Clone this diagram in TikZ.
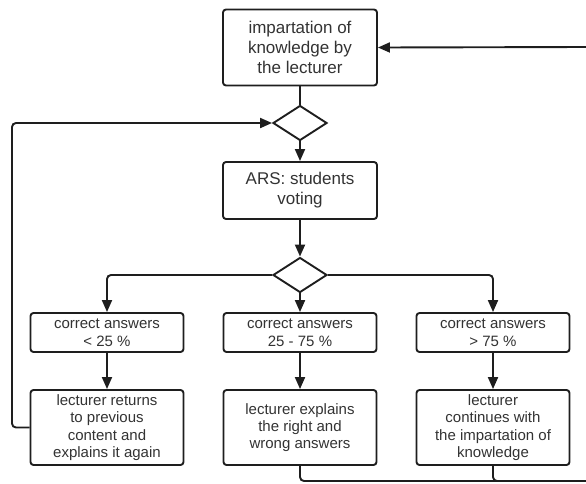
\documentclass[tikz,border=0pt]{standalone}
\usepackage{fontspec}
\setmainfont{Liberation Sans}
\usetikzlibrary{arrows.meta,shapes.geometric}
\definecolor{ln}{HTML}{1E1E1E}
\definecolor{tx}{HTML}{333333}
\tikzset{
  box/.style={draw=ln, line width=1.9pt, rounded corners=3pt, align=center, inner sep=0pt, text=tx, fill=white},
  bigbox/.style={box, minimum width=154pt, minimum height=76pt, font=\fontsize{17}{20}\selectfont},
  midbox/.style={box, minimum width=154pt, minimum height=57pt, font=\fontsize{17}{20}\selectfont},
  condbox/.style={box, minimum width=153pt, minimum height=39pt, font=\fontsize{15}{18}\selectfont},
  actbox/.style={box, minimum width=153pt, minimum height=75pt, font=\fontsize{15}{17.3}\selectfont},
  dia/.style={draw=ln, line width=1.9pt, diamond, inner sep=0pt, minimum width=54pt, minimum height=35pt, fill=white},
  conn/.style={draw=ln, line width=1.9pt, rounded corners=4pt},
  arr/.style={conn, -{Triangle[length=12pt,width=10pt]}}
}
\begin{document}
\begin{tikzpicture}[x=1pt,y=-1pt]
\useasboundingbox (0,0) rectangle (586,483);
\node[bigbox] (top) at (300,47.5) {impartation of\\knowledge by\\the lecturer};
\node[dia] (d1) at (300,123) {};
\node[midbox] (ars) at (300,190.5) {ARS: students\\voting};
\node[dia] (d2) at (300,275) {};
\node[condbox] (b1) at (107,332.5) {correct answers\\< 25 \%};
\node[condbox] (b2) at (300,332.5) {correct answers\\25 - 75 \%};
\node[condbox] (b3) at (493,332.5) {correct answers\\> 75 \%};
\node[actbox] (c1) at (107,427.5) {lecturer returns\\to previous\\content and\\explains it again};
\node[actbox] (c2) at (300,427.5) {lecturer explains\\the right and\\wrong answers};
\node[actbox] (c3) at (493,427.5) {lecturer\\continues with\\the impartation of\\knowledge};
\coordinate (inR) at (586,47);
\coordinate (loopL) at (12,427.5);
\coordinate (botR) at (586,481);
\draw[conn] (top.south) -- (d1.north);
\draw[arr] (d1.south) -- (ars.north);
\draw[arr] (ars.south) -- (d2.north);
\draw[arr] (d2.west) -| (b1.north);
\draw[arr] (d2.south) -- (b2.north);
\draw[arr] (d2.east) -| (b3.north);
\draw[arr] (b1.south) -- (c1.north);
\draw[arr] (b2.south) -- (c2.north);
\draw[arr] (b3.south) -- (c3.north);
\draw[arr] (c1.west) -- (loopL) |- (d1.west);
\draw[conn] (c2.south) |- (botR);
\draw[conn] (c3.south) |- (botR);
\draw[arr] (inR) -- (top.east);
\end{tikzpicture}
\end{document}
